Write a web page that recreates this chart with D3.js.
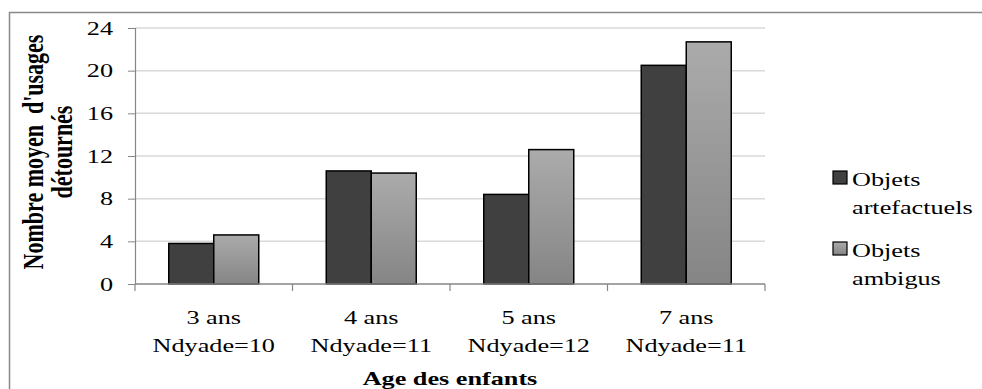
<!DOCTYPE html>
<html>
<head>
<meta charset="utf-8">
<script src="https://cdn.jsdelivr.net/npm/d3@7"></script>
<style>
  body { margin: 0; background: #fff; }
  svg text { font-family: "Liberation Serif", "Times New Roman", serif; fill: #000; }
</style>
</head>
<body>
<div id="chartContainer"></div>
<script>
// data
var ages = ["3 ans", "4 ans", "5 ans", "7 ans"];
var dyades = ["Ndyade=10", "Ndyade=11", "Ndyade=12", "Ndyade=11"];
var seriesNames = ["Objets artefactuels", "Objets ambigus"];
var artefactuels = [3.8, 10.6, 8.4, 20.5];
var ambigus = [4.6, 10.4, 12.6, 22.7];
var yTicks = [0, 4, 8, 12, 16, 20, 24];

var W = 982, H = 389;
var margin = { top: 28, left: 135 };
var plotW = 630, plotH = 256;
// the original picture is stretched sideways, so the text is too
var sx = 1.38;

var svg = d3.select("#chartContainer").append("svg")
    .attr("width", W).attr("height", H);

var defs = svg.append("defs");
var grad = defs.append("linearGradient").attr("id", "lightGrad")
    .attr("x1", 0).attr("y1", 0).attr("x2", 0).attr("y2", 1);
grad.append("stop").attr("offset", "0%").attr("stop-color", "#ababab");
grad.append("stop").attr("offset", "100%").attr("stop-color", "#858585");

// outer frame
svg.append("rect")
    .attr("x", 9.5).attr("y", 12.5)
    .attr("width", W).attr("height", H)
    .attr("fill", "none").attr("stroke", "#888").attr("stroke-width", 1.5);

var g = svg.append("g").attr("transform", `translate(${margin.left}, ${margin.top})`);

var x = d3.scaleBand().domain(ages).range([0, plotW]);
var y = d3.scaleLinear().domain([0, 24]).range([plotH, 0]);

// gridlines
g.selectAll(".grid").data(yTicks.slice(1)).enter().append("line")
    .attr("x1", 0).attr("x2", plotW)
    .attr("y1", d => y(d)).attr("y2", d => y(d))
    .attr("stroke", "#d9d9d9").attr("stroke-width", 1.5);

// y axis
var yAxis = g.append("g").call(d3.axisLeft(y).tickValues(yTicks).tickSize(7).tickPadding(15));
yAxis.select(".domain").attr("stroke", "#868686").attr("stroke-width", 1.2);
yAxis.selectAll(".tick line").attr("stroke", "#868686");
yAxis.selectAll("text")
    .attr("font-family", null)
    .attr("x", -22 / sx)
    .attr("transform", `scale(${sx},1)`)
    .style("font-size", "19px");

// bars
var barW = x.bandwidth() / 3.5;
var series = [
    { name: seriesNames[0], values: artefactuels, fill: "#404040", off: 0.75 },
    { name: seriesNames[1], values: ambigus, fill: "url(#lightGrad)", off: 1.75 }
];
series.forEach(function (s) {
    g.selectAll(null).data(ages).enter().append("rect")
        .attr("x", (d, i) => x(d) + s.off * barW)
        .attr("y", (d, i) => y(s.values[i]))
        .attr("width", barW)
        .attr("height", (d, i) => plotH - y(s.values[i]))
        .attr("fill", s.fill)
        .attr("stroke", "#000").attr("stroke-width", 1.5);
});

// x axis
var xAxisG = g.append("g").attr("transform", `translate(0, ${plotH})`);
xAxisG.append("line").attr("x1", 0).attr("x2", plotW)
    .attr("stroke", "#868686").attr("stroke-width", 1.5);
var bounds = ages.map(d => x(d)).concat([plotW]);
xAxisG.selectAll(".xt").data(bounds).enter().append("line")
    .attr("x1", d => d).attr("x2", d => d)
    .attr("y1", 0).attr("y2", 7)
    .attr("stroke", "#868686").attr("stroke-width", 1.2);
var xl = xAxisG.selectAll(".xl").data(ages).enter().append("g")
    .attr("transform", d => `translate(${x(d) + x.bandwidth() / 2}, 0) scale(${sx},1)`)
    .append("text")
    .attr("text-anchor", "middle")
    .style("font-size", "19px");
xl.append("tspan").attr("x", 0).attr("y", 40).text(d => d);
xl.append("tspan").attr("x", 0).attr("y", 68).text((d, i) => dyades[i]);

// x title
svg.append("g")
    .attr("transform", `translate(${margin.left + plotW / 2}, 385) scale(${sx},1)`)
    .append("text")
    .attr("text-anchor", "middle")
    .style("font-size", "19px").style("font-weight", "bold")
    .text("Age des enfants");

// y title
var yt = svg.append("text")
    .attr("transform", `translate(0, 152) scale(${sx},1) rotate(-90)`)
    .attr("text-anchor", "middle")
    .style("font-size", "22px").style("font-weight", "bold");
yt.append("tspan").attr("x", 0).attr("y", 43 / sx).attr("xml:space", "preserve").text("Nombre moyen  d'usages");
yt.append("tspan").attr("x", 0).attr("y", 72 / sx).text("détournés");

// legend
var legend = svg.append("g");
var legY = [171, 242];
series.forEach(function (s, i) {
    legend.append("rect")
        .attr("x", 833).attr("y", legY[i])
        .attr("width", 14).attr("height", 13)
        .attr("fill", s.fill).attr("stroke", "#000").attr("stroke-width", 1.2);
    var parts = s.name.split(" ");
    var t = legend.append("g")
        .attr("transform", `translate(852, ${legY[i]}) scale(${sx},1)`)
        .append("text").style("font-size", "19px");
    t.append("tspan").attr("x", 0).attr("y", 15).text(parts[0]);
    t.append("tspan").attr("x", 0).attr("y", 43).text(parts[1]);
});
</script>
</body>
</html>
